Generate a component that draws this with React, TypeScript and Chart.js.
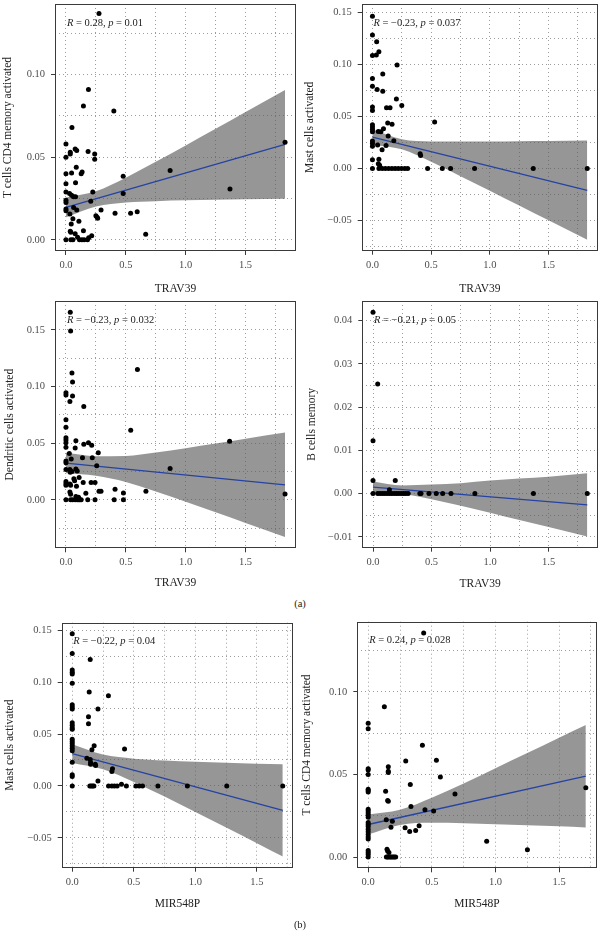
import React, { useEffect, useRef } from "react";
import { Chart, registerables } from "chart.js";

Chart.register(...registerables);

const FONT = "'Liberation Serif', 'Times New Roman', 'DejaVu Serif', serif";

// ---------- Panel 1: TRAV39 vs T cells CD4 memory activated ----------
const p1X = [0.276, 0.188, 0.146, 0.40, 0.05, 0, 0, 0.036, 0.036, 0.077, 0.09, 0.185, 0.24, 0.24, 0, 0.047, 0.086, 0.135, 0.127, 0, 0.08, 0, 0.03, 0.047, 0.064, 0.08, 0.224, 0, 0, 0, 0, 0.064, 0.09, 0.207, 0.033, 0.058, 0.108, 0.044, 0.036, 0.041, 0.077, 0.146, 0, 0.041, 0.058, 0.097, 0.113, 0.133, 0.152, 0.18, 0.19, 0.215, 0.25, 0.26, 0.265, 0.293, 0.41, 0.54, 0.595, 0.478, 0.478, 0.666, 0.87, 1.37, 1.83];
const p1Y = [0.137, 0.091, 0.081, 0.078, 0.068, 0.058, 0.050, 0.053, 0.052, 0.055, 0.054, 0.0535, 0.052, 0.0487, 0.040, 0.0405, 0.044, 0.041, 0.040, 0.034, 0.0345, 0.029, 0.028, 0.027, 0.026, 0.026, 0.029, 0.024, 0.0225, 0.0186, 0.0176, 0.0195, 0.018, 0.0233, 0.0156, 0.0128, 0.0112, 0.0096, 0.0052, 0.0046, 0.0036, 0.0054, 0, 0, 0, 0.0016, 0, 0, 0, 0, 0.0012, 0.0024, 0.0146, 0.0136, 0.013, 0.018, 0.016, 0.016, 0.017, 0.0385, 0.028, 0.0034, 0.042, 0.0307, 0.059];
const p1LineX = [0, 1.83];
const p1LineY = [0.0196, 0.0578];
const travBandX = [0, 0.25, 0.5, 0.75, 1.0, 1.25, 1.5, 1.83];
const p1Lower = [0.0136, 0.0202, 0.0226, 0.0234, 0.0239, 0.0242, 0.0246, 0.0248];
const p1Upper = [0.0256, 0.0294, 0.0376, 0.0472, 0.0571, 0.0672, 0.0774, 0.0908];

// ---------- Panel 2: TRAV39 vs Mast cells activated ----------
const p2X = [0, 0, 0.036, 0, 0.033, 0.055, 0.21, 0, 0.088, 0, 0.04, 0.088, 0.204, 0.25, 0.12, 0.15, 0, 0, 0.53, 0.13, 0.167, 0, 0, 0, 0, 0.05, 0.072, 0.094, 0.134, 0, 0, 0, 0.044, 0.116, 0.182, 0.082, 0, 0.055, 0.05, 0.061, 0.406, 0.41, 0, 0.055, 0.083, 0.11, 0.138, 0.166, 0.193, 0.22, 0.248, 0.276, 0.30, 0.47, 0.595, 0.666, 0.87, 1.37, 1.83];
const p2Y = [0.146, 0.128, 0.1217, 0.1085, 0.109, 0.112, 0.0993, 0.0864, 0.0907, 0.0788, 0.0757, 0.0741, 0.0667, 0.0604, 0.0583, 0.0583, 0.0591, 0.0557, 0.0446, 0.0437, 0.0425, 0.0421, 0.0399, 0.0377, 0.0352, 0.0356, 0.0352, 0.0381, 0.0311, 0.0264, 0.0239, 0.0214, 0.0226, 0.022, 0.0267, 0.0179, 0.0085, 0.0088, 0.0047, 0.0031, 0.0141, 0.0126, 0, 0, 0, 0, 0, 0, 0, 0, 0, 0, 0, 0, 0, 0, 0, 0, 0];
const p2LineX = [0, 1.83];
const p2LineY = [0.0302, -0.0209];
const p2Lower = [0.0228, 0.0184, 0.0064, -0.0073, -0.0213, -0.0355, -0.0497, -0.0684];
const p2Upper = [0.0376, 0.0280, 0.0260, 0.0259, 0.0259, 0.0261, 0.0263, 0.0268];

// ---------- Panel 3: TRAV39 vs Dendritic cells activated ----------
const p3X = [0.036, 0.039, 0.05, 0.055, 0, 0, 0.033, 0.055, 0.149, 0.597, 0.541, 0, 0, 0, 0, 0, 0, 0.083, 0.077, 0.149, 0.188, 0.215, 0, 0, 0.028, 0.044, 0.138, 0.22, 0.27, 0.257, 0, 0.033, 0.05, 0.036, 0.083, 0.094, 0, 0, 0, 0.033, 0.039, 0.066, 0.072, 0.144, 0.21, 0.243, 0.11, 0.088, 0.166, 0.033, 0.039, 0.276, 0.293, 0.41, 0.48, 0.668, 0, 0.039, 0.055, 0.077, 0.094, 0.105, 0.116, 0.127, 0.182, 0.243, 0.403, 0.48, 0.083, 0.105, 0.87, 1.367, 1.83];
const p3Y = [0.1657, 0.149, 0.112, 0.104, 0.0946, 0.0926, 0.0868, 0.0917, 0.0824, 0.115, 0.0615, 0.0708, 0.0641, 0.0548, 0.0528, 0.0505, 0.0464, 0.0522, 0.0458, 0.049, 0.0505, 0.0482, 0.0342, 0.0328, 0.0409, 0.036, 0.0371, 0.0371, 0.0415, 0.030, 0.0267, 0.0267, 0.025, 0.0244, 0.0273, 0.0255, 0.0163, 0.0145, 0.0128, 0.0139, 0.0128, 0.0186, 0.0168, 0.0154, 0.0154, 0.0154, 0.0197, 0.0119, 0.0058, 0.007, 0.0049, 0.0075, 0.0075, 0.0093, 0.0061, 0.0075, 0, 0, 0, 0, 0, 0, 0, 0, 0, 0, 0, 0, 0.003, 0.0023, 0.0276, 0.0517, 0.0052];
const p3LineX = [0, 1.83];
const p3LineY = [0.0325, 0.0133];
const p3Lower = [0.0235, 0.0213, 0.0158, 0.0074, -0.0016, -0.0109, -0.0204, -0.0329];
const p3Upper = [0.0415, 0.0385, 0.0388, 0.0418, 0.0456, 0.0497, 0.0540, 0.0595];

// ---------- Panel 4: TRAV39 vs B cells memory ----------
const p4X = [0, 0.04, 0, 0, 0.19, 0.14, 0, 0.04, 0.06, 0.08, 0.1, 0.12, 0.14, 0.16, 0.18, 0.2, 0.22, 0.24, 0.26, 0.28, 0.30, 0.40, 0.41, 0.478, 0.54, 0.595, 0.666, 0.87, 1.37, 1.83];
const p4Y = [0.0419, 0.0253, 0.0122, 0.003, 0.003, 0.0009, 0, 0, 0, 0, 0, 0, 0, 0, 0, 0, 0, 0, 0, 0, 0, 0, 0, 0, 0, 0, 0, 0, 0, 0];
const p4LineX = [0, 1.83];
const p4LineY = [0.0015, -0.0026];
const p4Lower = [0.0002, -0.0001, -0.0013, -0.0028, -0.0044, -0.0061, -0.0077, -0.0099];
const p4Upper = [0.0028, 0.0019, 0.0021, 0.0024, 0.0030, 0.0035, 0.0039, 0.0047];

// ---------- Panel 5: MIR548P vs Mast cells activated ----------
const p5X = [0, 0, 0, 0, 0, 0, 0.146, 0.138, 0.294, 0, 0, 0, 0.209, 0.132, 0.132, 0, 0, 0, 0, 0, 0, 0, 0, 0, 0, 0.178, 0.16, 0.425, 0, 0.119, 0.146, 0.149, 0.149, 0.187, 0.19, 0.327, 0.322, 0, 0, 0.209, 0, 0.143, 0.154, 0.165, 0.176, 0.295, 0.322, 0.343, 0.365, 0.40, 0.44, 0.517, 0.544, 0.571, 0.696, 0.935, 1.255, 1.71];
const p5Y = [0.1465, 0.1275, 0.1116, 0.1094, 0.1078, 0.099, 0.1218, 0.0904, 0.0869, 0.0783, 0.0761, 0.0742, 0.0742, 0.0666, 0.060, 0.0609, 0.0584, 0.0561, 0.0546, 0.045, 0.0428, 0.0409, 0.0387, 0.0362, 0.0339, 0.0387, 0.0349, 0.0355, 0.0228, 0.0266, 0.0254, 0.0225, 0.021, 0.021, 0.0197, 0.0165, 0.014, 0.0108, 0.0092, 0.0048, 0, 0, 0, 0, 0, 0, 0, 0, 0, 0.0016, 0, 0, 0, 0, 0, 0, 0, 0];
const p5LineX = [0, 1.71];
const p5LineY = [0.0311, -0.0235];
const mirBandX = [0, 0.25, 0.5, 0.75, 1.0, 1.25, 1.5, 1.71];
const p5Lower = [0.0220, 0.0160, 0.0039, -0.0102, -0.0250, -0.0400, -0.0551, -0.0679];
const p5Upper = [0.0402, 0.0302, 0.0263, 0.0246, 0.0234, 0.0224, 0.0215, 0.0209];

// ---------- Panel 6: MIR548P vs T cells CD4 memory activated ----------
const p6X = [0.436, 0.127, 0, 0, 0.426, 0.295, 0.536, 0.567, 0.158, 0.158, 0.158, 0, 0, 0, 0.331, 0.137, 0, 0, 0, 0.153, 0.158, 0.682, 0.336, 0.446, 0.514, 0, 0, 0, 0, 0, 0.142, 0.19, 0, 0, 0, 0, 0, 0, 0, 0, 0.179, 0.29, 0.326, 0.373, 0.40, 0, 0, 0, 0, 0.148, 0.153, 0.163, 0.143, 0.153, 0.163, 0.174, 0.184, 0.195, 0.205, 0.216, 0.931, 1.251, 1.71];
const p6Y = [0.1356, 0.091, 0.0809, 0.0777, 0.0676, 0.0581, 0.0586, 0.0485, 0.0547, 0.0519, 0.0511, 0.0535, 0.0527, 0.0499, 0.0439, 0.0398, 0.041, 0.0402, 0.0394, 0.0342, 0.0338, 0.0382, 0.0306, 0.0286, 0.0278, 0.029, 0.0278, 0.0266, 0.0254, 0.0241, 0.0225, 0.0217, 0.0209, 0.0197, 0.0185, 0.0169, 0.0153, 0.0137, 0.0121, 0.0109, 0.0181, 0.0177, 0.0155, 0.0161, 0.0189, 0.004, 0.0028, 0.0016, 0, 0.0048, 0.0036, 0.0028, 0, 0, 0, 0, 0, 0, 0, 0, 0.0095, 0.0044, 0.0419];
const p6LineX = [0, 1.71];
const p6LineY = [0.0197, 0.0489];
const p6Lower = [0.0136, 0.0194, 0.0207, 0.0205, 0.0199, 0.0193, 0.0186, 0.0179];
const p6Upper = [0.0258, 0.0286, 0.0359, 0.0445, 0.0537, 0.0629, 0.0722, 0.0799];

// ---------- Ticks ----------
const xMajor = [0, 0.5, 1.0, 1.5];
const xMinor = [0.25, 0.75, 1.25, 1.75];
const p1YMajor = [0, 0.05, 0.1];
const p1YMinor = [0.025, 0.075, 0.125];
const p2YMajor = [-0.05, 0, 0.05, 0.1, 0.15];
const p2YMinor = [-0.075, -0.025, 0.025, 0.075, 0.125];
const p3YMajor = [0, 0.05, 0.1, 0.15];
const p3YMinor = [-0.025, 0.025, 0.075, 0.125, 0.175];
const p4YMajor = [-0.01, 0, 0.01, 0.02, 0.03, 0.04];
const p4YMinor = [-0.005, 0.005, 0.015, 0.025, 0.035];
const p5YMajor = [-0.05, 0, 0.05, 0.1, 0.15];
const p5YMinor = [-0.075, -0.025, 0.025, 0.075, 0.125];
const p6YMajor = [0, 0.05, 0.1];
const p6YMinor = [0.025, 0.075, 0.125];

type PanelCfg = {
  xs: number[]; ys: number[];
  lineX: number[]; lineY: number[];
  bandX: number[]; lower: number[]; upper: number[];
  xMajor: number[]; xMinor: number[]; yMajor: number[]; yMinor: number[];
  xRange: [number, number]; yRange: [number, number];
  xTitle: string; yTitle: string; r: string; p: string;
  box: { left: number; top: number; w: number; h: number };
  area: { l: number; r: number; t: number; b: number };
  xTitleY: number; yTitleX: number;
};

const panels: PanelCfg[] = [
  {
    xs: p1X, ys: p1Y, lineX: p1LineX, lineY: p1LineY, bandX: travBandX, lower: p1Lower, upper: p1Upper,
    xMajor, xMinor, yMajor: p1YMajor, yMinor: p1YMinor,
    xRange: [-0.0915, 1.9215], yRange: [-0.0068, 0.1428],
    xTitle: "TRAV39", yTitle: "T cells CD4 memory activated", r: "0.28", p: "0.01",
    box: { left: 0, top: 0, w: 300, h: 297 }, area: { l: 55, r: 298, t: 0, b: 251 },
    xTitleY: 289, yTitleX: 8.3,
  },
  {
    xs: p2X, ys: p2Y, lineX: p2LineX, lineY: p2LineY, bandX: travBandX, lower: p2Lower, upper: p2Upper,
    xMajor, xMinor, yMajor: p2YMajor, yMinor: p2YMinor,
    xRange: [-0.0915, 1.9215], yRange: [-0.0788, 0.1578],
    xTitle: "TRAV39", yTitle: "Mast cells activated", r: "\u22120.23", p: "0.037",
    box: { left: 300, top: 0, w: 302, h: 297 }, area: { l: 361.7, r: 601.5, t: 0, b: 250.7 },
    xTitleY: 288.7, yTitleX: 310,
  },
  {
    xs: p3X, ys: p3Y, lineX: p3LineX, lineY: p3LineY, bandX: travBandX, lower: p3Lower, upper: p3Upper,
    xMajor, xMinor, yMajor: p3YMajor, yMinor: p3YMinor,
    xRange: [-0.0915, 1.9215], yRange: [-0.0428, 0.1756],
    xTitle: "TRAV39", yTitle: "Dendritic cells activated", r: "\u22120.23", p: "0.032",
    box: { left: 0, top: 297, w: 300, h: 298 }, area: { l: 55, r: 298, t: 298.3, b: 548.3 },
    xTitleY: 583.3, yTitleX: 10,
  },
  {
    xs: p4X, ys: p4Y, lineX: p4LineX, lineY: p4LineY, bandX: travBandX, lower: p4Lower, upper: p4Upper,
    xMajor, xMinor, yMajor: p4YMajor, yMinor: p4YMinor,
    xRange: [-0.0915, 1.9215], yRange: [-0.0125, 0.0445],
    xTitle: "TRAV39", yTitle: "B cells memory", r: "\u22120.21", p: "0.05",
    box: { left: 300, top: 297, w: 302, h: 298 }, area: { l: 362.3, r: 601.5, t: 298.3, b: 547.7 },
    xTitleY: 584.3, yTitleX: 311.7,
  },
  {
    xs: p5X, ys: p5Y, lineX: p5LineX, lineY: p5LineY, bandX: mirBandX, lower: p5Lower, upper: p5Upper,
    xMajor, xMinor, yMajor: p5YMajor, yMinor: p5YMinor,
    xRange: [-0.0855, 1.7955], yRange: [-0.0787, 0.1572],
    xTitle: "MIR548P", yTitle: "Mast cells activated", r: "\u22120.22", p: "0.04",
    box: { left: 0, top: 610, w: 300, h: 310 }, area: { l: 61.7, r: 293.3, t: 622.7, b: 867.7 },
    xTitleY: 904, yTitleX: 10,
  },
  {
    xs: p6X, ys: p6Y, lineX: p6LineX, lineY: p6LineY, bandX: mirBandX, lower: p6Lower, upper: p6Upper,
    xMajor, xMinor, yMajor: p6YMajor, yMinor: p6YMinor,
    xRange: [-0.0855, 1.7955], yRange: [-0.0068, 0.1424],
    xTitle: "MIR548P", yTitle: "T cells CD4 memory activated", r: "0.24", p: "0.028",
    box: { left: 300, top: 610, w: 302, h: 310 }, area: { l: 357.3, r: 596.7, t: 621.7, b: 868.3 },
    xTitleY: 904, yTitleX: 307.3,
  },
];

const isIn = (arr: number[], v: number) => arr.some((m) => Math.abs(m - v) < 1e-9);
const fmt = (v: number, d: number) => {
  const s = Math.abs(v).toFixed(d);
  return v < -1e-12 ? "\u2212" + s : s;
};

const TICK_SIZE = 10.5;
const TITLE_SIZE = 11.5;
const TITLE_LH = TITLE_SIZE * 1.2;

function Panel({ cfg }: { cfg: PanelCfg }) {
  const ref = useRef<HTMLCanvasElement | null>(null);
  useEffect(() => {
    const { box, area } = cfg;
    const yAxisW = area.l - box.left;
    const padR = box.left + box.w - area.r;
    const padT = area.t - box.top;
    const xAxisH = box.top + box.h - area.b;
    const xTitlePadB = box.top + box.h - cfg.xTitleY - TITLE_LH / 2;
    const yTitlePadT = cfg.yTitleX - box.left - TITLE_LH / 2;
    const allX = [...cfg.xMajor, ...cfg.xMinor].sort((a, b) => a - b);
    const allY = [...cfg.yMajor, ...cfg.yMinor].sort((a, b) => a - b);

    const deco = {
      id: "frameAnno",
      afterDatasetsDraw(chart: any) {
        const { ctx, chartArea: a } = chart;
        ctx.save();
        ctx.strokeStyle = "#3a3a3a";
        ctx.lineWidth = 1;
        ctx.setLineDash([]);
        ctx.strokeRect(Math.round(a.left) + 0.5, Math.round(a.top) + 0.5, Math.round(a.right) - Math.round(a.left) - 1, Math.round(a.bottom) - Math.round(a.top) - 1);
        const x0 = chart.scales.x.getPixelForValue(0) + 1;
        const y0 = a.top + 19;
        ctx.fillStyle = "#222";
        ctx.textBaseline = "middle";
        ctx.textAlign = "left";
        const segs: [string, boolean][] = [["R", true], [" = " + cfg.r + ", ", false], ["p", true], [" = " + cfg.p, false]];
        let x = x0;
        for (const [t, it] of segs) {
          ctx.font = `${it ? "italic " : ""}10.5px ${FONT}`;
          ctx.fillText(t, x, y0);
          x += ctx.measureText(t).width;
        }
        ctx.restore();
      },
    };

    const tickColorFn = (majors: number[]) => (c: any) =>
      c && c.tick && isIn(majors, c.tick.value) ? "#3a3a3a" : "rgba(0,0,0,0)";

    const chart = new Chart(ref.current as HTMLCanvasElement, {
      type: "scatter",
      data: {
        datasets: [
          {
            label: "points",
            data: cfg.xs.map((x, i) => ({ x, y: cfg.ys[i] })),
            pointRadius: 2.5,
            pointBackgroundColor: "#000",
            pointBorderWidth: 0,
            showLine: false,
          },
          {
            label: "fit",
            data: cfg.lineX.map((x, i) => ({ x, y: cfg.lineY[i] })),
            showLine: true,
            borderColor: "#2643a3",
            borderWidth: 1.3,
            pointRadius: 0,
            fill: false,
          },
          {
            label: "lower",
            data: cfg.bandX.map((x, i) => ({ x, y: cfg.lower[i] })),
            showLine: true,
            borderWidth: 0,
            borderColor: "rgba(0,0,0,0)",
            pointRadius: 0,
            fill: false,
            cubicInterpolationMode: "monotone",
          },
          {
            label: "upper",
            data: cfg.bandX.map((x, i) => ({ x, y: cfg.upper[i] })),
            showLine: true,
            borderWidth: 0,
            borderColor: "rgba(0,0,0,0)",
            pointRadius: 0,
            fill: "-1",
            backgroundColor: "rgba(90,90,90,0.64)",
            cubicInterpolationMode: "monotone",
          },
        ] as any,
      },
      options: {
        responsive: false,
        animation: false,
        events: [],
        layout: { padding: { top: padT, right: padR, left: 0, bottom: 0 } },
        plugins: { legend: { display: false }, tooltip: { enabled: false } },
        scales: {
          x: {
            type: "linear",
            position: "bottom",
            min: cfg.xRange[0],
            max: cfg.xRange[1],
            afterBuildTicks: (s: any) => {
              s.ticks = allX.map((v) => ({ value: v }));
            },
            afterFit: (s: any) => {
              s.height = xAxisH;
              s.paddingLeft = 0;
              s.paddingRight = 0;
              s.paddingTop = 0;
              s.paddingBottom = 0;
            },
            ticks: {
              autoSkip: false,
              maxRotation: 0,
              minRotation: 0,
              padding: 4,
              color: "#4d4d4d",
              font: { family: FONT, size: TICK_SIZE },
              callback: (v: any) => (isIn(cfg.xMajor, Number(v)) ? fmt(Number(v), 1) : ""),
            },
            grid: {
              color: "#9c9c9c",
              lineWidth: 1,
              drawTicks: true,
              tickLength: 4,
              tickWidth: 1,
              tickColor: tickColorFn(cfg.xMajor),
              tickBorderDash: [],
              borderDash: [1, 3],
            } as any,
            border: { display: false, dash: [1, 3] },
            title: {
              display: true,
              text: cfg.xTitle,
              color: "#222",
              font: { family: FONT, size: TITLE_SIZE },
              padding: { top: 0, bottom: xTitlePadB },
            },
          },
          y: {
            type: "linear",
            position: "left",
            min: cfg.yRange[0],
            max: cfg.yRange[1],
            afterBuildTicks: (s: any) => {
              s.ticks = allY.map((v) => ({ value: v }));
            },
            afterFit: (s: any) => {
              s.width = yAxisW;
              s.paddingLeft = 0;
              s.paddingRight = 0;
              s.paddingTop = 0;
              s.paddingBottom = 0;
            },
            ticks: {
              autoSkip: false,
              padding: 6,
              color: "#4d4d4d",
              font: { family: FONT, size: TICK_SIZE },
              callback: (v: any) => (isIn(cfg.yMajor, Number(v)) ? fmt(Number(v), 2) : ""),
            },
            grid: {
              color: "#9c9c9c",
              lineWidth: 1,
              drawTicks: true,
              tickLength: 4,
              tickWidth: 1,
              tickColor: tickColorFn(cfg.yMajor),
              tickBorderDash: [],
              borderDash: [1, 3],
            } as any,
            border: { display: false, dash: [1, 3] },
            title: {
              display: true,
              text: cfg.yTitle,
              color: "#222",
              font: { family: FONT, size: TITLE_SIZE },
              padding: { top: yTitlePadT, bottom: 0 },
            },
          },
        },
      } as any,
      plugins: [deco],
    });
    return () => chart.destroy();
  }, [cfg]);

  return (
    <canvas
      ref={ref}
      width={cfg.box.w}
      height={cfg.box.h}
      style={{ position: "absolute", left: cfg.box.left, top: cfg.box.top, width: cfg.box.w, height: cfg.box.h }}
    />
  );
}

const labelStyle = (top: number): React.CSSProperties => ({
  position: "absolute",
  left: 300,
  top,
  transform: "translate(-50%, -50%)",
  fontFamily: FONT,
  fontSize: 10.5,
  color: "#222",
  lineHeight: "12px",
  whiteSpace: "nowrap",
});

export default function App() {
  return (
    <div style={{ position: "absolute", left: 0, top: 0, width: 602, height: 931, background: "#fff", overflow: "hidden" }}>
      {panels.map((p, i) => (
        <Panel key={i} cfg={p} />
      ))}
      <div style={labelStyle(604)}>(a)</div>
      <div style={labelStyle(925)}>(b)</div>
    </div>
  );
}
